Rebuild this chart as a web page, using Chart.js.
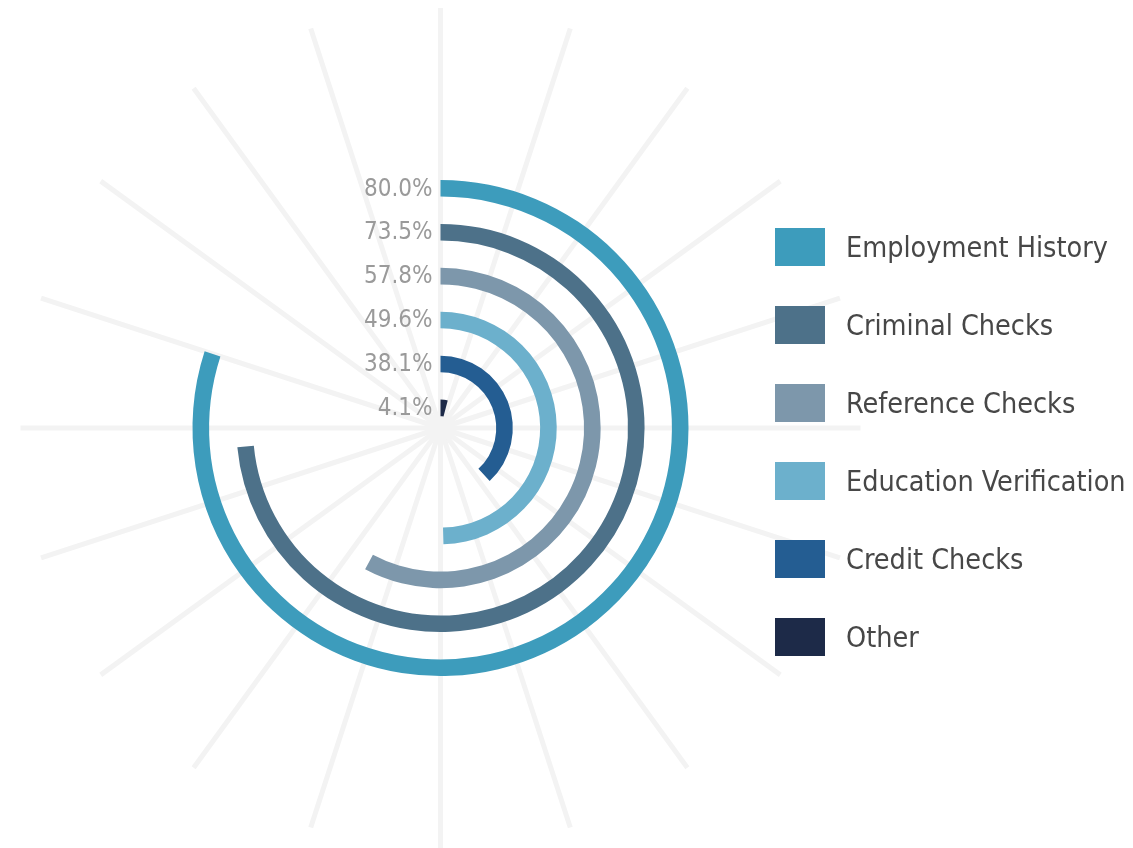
<!DOCTYPE html>
<html>
<head>
<meta charset="utf-8">
<script src="https://cdn.jsdelivr.net/npm/chart.js@4.4.1/dist/chart.umd.min.js"></script>
<style>
  html, body { margin: 0; padding: 0; background: #fff; }
  #wrap { position: relative; width: 1133px; height: 848px; overflow: hidden; }
  #chart { position: absolute; left: 0; top: 0; }
  #legend { position: absolute; left: 775px; top: 228px; margin: 0; padding: 0; list-style: none; }
  #legend li { height: 38px; margin-bottom: 40px; display: flex; align-items: center; }
  #legend .sw { width: 50px; height: 38px; margin-right: 21px; flex: none; }
  #legend .tx { font-family: "DejaVu Sans Condensed", "DejaVu Sans", sans-serif; font-stretch: condensed;
                font-size: 28.5px; color: #474747; white-space: nowrap; }
</style>
</head>
<body>
<div id="wrap">
  <canvas id="chart" width="1133" height="848"></canvas>
  <ul id="legend"></ul>
</div>
<script>
// screening types, outermost ring first
const categories = ["Employment History", "Criminal Checks", "Reference Checks",
                    "Education Verification", "Credit Checks", "Other"];
const values = [80.0, 73.5, 57.8, 49.6, 38.1, 4.1];
const colors = ["#3d9cbc", "#4d7189", "#7d97ab", "#6cb0cc", "#245d92", "#1d2a48"];

const RING = 16;      // ring thickness
const GAP = 26.4;     // space between rings
const SPOKES = 20;
const SPOKE_LEN = 420;

// one dataset per ring, with invisible spacer rings in between
const datasets = [];
categories.forEach((name, i) => {
  datasets.push({
    label: name,
    data: [values[i], 100 - values[i]],
    backgroundColor: [colors[i], "rgba(0,0,0,0)"],
    borderWidth: 0,
    weight: RING
  });
  if (i < categories.length - 1) {
    datasets.push({ label: "", data: [100], backgroundColor: ["rgba(0,0,0,0)"], borderWidth: 0, weight: GAP, spacer: true });
  }
});

// faint radial lines behind the rings
const spokesPlugin = {
  id: "spokes",
  beforeDatasetsDraw(chart) {
    const arc = chart.getDatasetMeta(0).data[0];
    const ctx = chart.ctx;
    ctx.save();
    ctx.strokeStyle = "#f3f3f3";
    ctx.lineWidth = 5;
    for (let k = 0; k < SPOKES; k++) {
      const a = -Math.PI / 2 + k * 2 * Math.PI / SPOKES;
      ctx.beginPath();
      ctx.moveTo(arc.x, arc.y);
      ctx.lineTo(arc.x + Math.cos(a) * SPOKE_LEN, arc.y + Math.sin(a) * SPOKE_LEN);
      ctx.stroke();
    }
    ctx.restore();
  }
};

// percentage next to the start of each ring
const valueLabels = {
  id: "valueLabels",
  afterDatasetsDraw(chart) {
    const ctx = chart.ctx;
    ctx.save();
    ctx.font = '24px "DejaVu Sans Condensed", "DejaVu Sans", sans-serif';
    ctx.fillStyle = "#9a9a9a";
    ctx.textAlign = "right";
    ctx.textBaseline = "middle";
    chart.data.datasets.forEach((ds, i) => {
      if (ds.spacer) return;
      const arc = chart.getDatasetMeta(i).data[0];
      const r = (arc.innerRadius + arc.outerRadius) / 2;
      ctx.fillText(ds.data[0].toFixed(1) + "%", arc.x - 8, arc.y - r + 1);
    });
    ctx.restore();
  }
};

new Chart(document.getElementById("chart"), {
  type: "doughnut",
  data: { labels: ["value", "rest"], datasets: datasets },
  options: {
    responsive: false,
    animation: false,
    events: [],
    radius: 248,
    cutout: 20,
    layout: { padding: { left: 0, right: 252, top: 8, bottom: 0 } },
    plugins: { legend: { display: false }, tooltip: { enabled: false } }
  },
  plugins: [spokesPlugin, valueLabels]
});

const legend = document.getElementById("legend");
categories.forEach((name, i) => {
  const li = document.createElement("li");
  li.innerHTML = `<span class="sw" style="background:${colors[i]}"></span><span class="tx">${name}</span>`;
  legend.appendChild(li);
});
</script>
</body>
</html>
